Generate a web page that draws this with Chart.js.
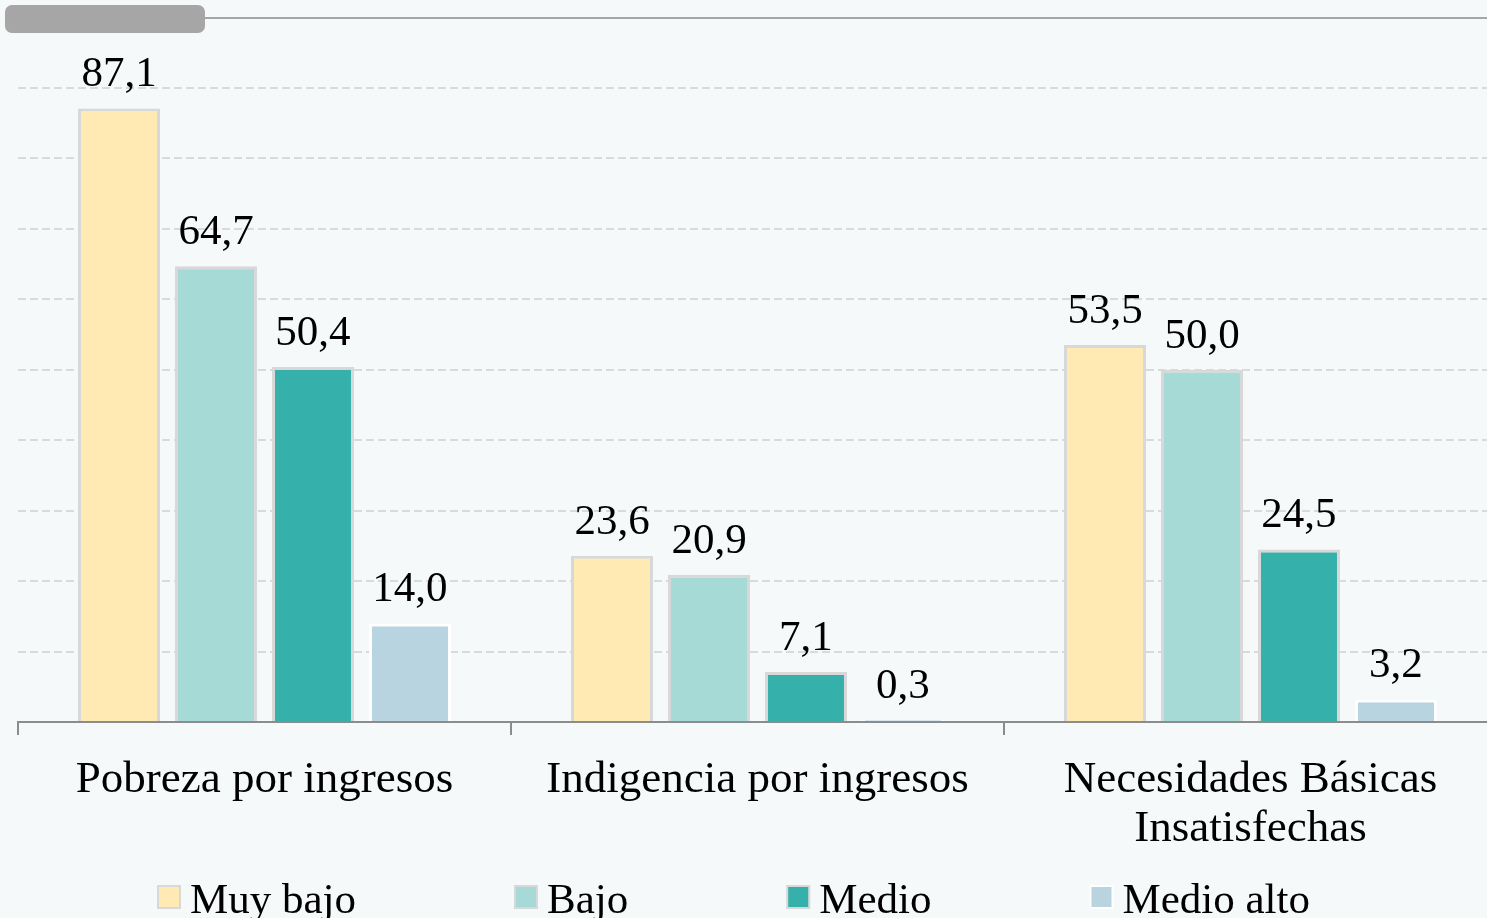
<!DOCTYPE html>
<html><head><meta charset="utf-8">
<script src="https://cdn.jsdelivr.net/npm/chart.js@4.4.1/dist/chart.umd.min.js"></script>
<style>
html,body{margin:0;padding:0;background:#f5f9fa;overflow:hidden;width:1487px;height:918px}
#wrap{position:relative;width:1487px;height:918px;overflow:hidden}
canvas{position:absolute;left:0;top:0}
.tab{position:absolute;left:5px;top:5px;width:200px;height:28px;background:#a6a6a6;border-radius:7px}
.rule{position:absolute;left:205px;top:17px;right:0;height:2px;background:#a6a6a6}
</style></head>
<body><div id="wrap"><canvas id="c" width="1500" height="918"></canvas><div class="tab"></div><div class="rule"></div></div>
<script>
// categories and series
const categories = ["Pobreza por ingresos", "Indigencia por ingresos", ["Necesidades Básicas", "Insatisfechas"]];
const series = ["Muy bajo", "Bajo", "Medio", "Medio alto"];
const muyBajo = [87.1, 23.6, 53.5];
const bajo = [64.7, 20.9, 50.0];
const medio = [50.4, 7.1, 24.5];
const medioAlto = [14.0, 0.3, 3.2];
const yMin = 0, yMax = 90, yStep = 10;

const colors = ["#ffeab3", "#a6dad7", "#35b0aa", "#b7d4e0"];
const edges = ["#d8d8d8", "#d8d8d8", "#d8d8d8", "#ffffff"];
const FONT = '"Liberation Serif", "DejaVu Serif", serif';

const fmt = v => v.toFixed(1).replace(".", ",");

const valueLabels = {
  id: "valueLabels",
  afterDatasetsDraw(chart) {
    const { ctx } = chart;
    ctx.save();
    ctx.font = `43px ${FONT}`;
    ctx.fillStyle = "#000";
    ctx.textAlign = "center";
    ctx.textBaseline = "alphabetic";
    chart.data.datasets.forEach((ds, i) => {
      chart.getDatasetMeta(i).data.forEach((bar, j) => {
        ctx.fillText(fmt(ds.data[j]), bar.x, bar.y - 22);
      });
    });
    ctx.restore();
  }
};

const bottomLegend = {
  id: "bottomLegend",
  afterDraw(chart) {
    const { ctx } = chart;
    ctx.save();
    ctx.font = `43px ${FONT}`;
    ctx.textBaseline = "alphabetic";
    let x = 158;
    chart.data.datasets.forEach((ds, i) => {
      ctx.fillStyle = ds.backgroundColor;
      ctx.fillRect(x, 886, 22, 22);
      ctx.strokeStyle = ds.borderColor;
      ctx.lineWidth = 2;
      ctx.strokeRect(x, 886, 22, 22);
      ctx.fillStyle = "#000";
      ctx.fillText(ds.label, x + 32, 913);
      x += 32 + ctx.measureText(ds.label).width + 159;
    });
    ctx.restore();
  }
};

const data = [muyBajo, bajo, medio, medioAlto];

new Chart(document.getElementById("c"), {
  type: "bar",
  data: {
    labels: categories,
    datasets: series.map((s, i) => ({
      label: s,
      data: data[i],
      backgroundColor: colors[i],
      borderColor: edges[i],
      borderWidth: 3,
      categoryPercentage: 0.787,
      barPercentage: 0.845
    }))
  },
  options: {
    responsive: false,
    animation: false,
    layout: { padding: { left: 18, right: 3, top: 88, bottom: 0 } },
    plugins: { legend: { display: false }, tooltip: { enabled: false } },
    scales: {
      x: {
        grid: { display: true, drawOnChartArea: false, drawTicks: true, tickLength: 13, color: "#8c8c8c", lineWidth: 2, offset: true },
        border: { display: true, color: "#8c8c8c", width: 2 },
        ticks: { font: { family: FONT, size: 45, lineHeight: 1.1 }, color: "#000", padding: 20, maxRotation: 0, autoSkip: false },
        afterFit(s) { s.height = 196; }
      },
      y: {
        min: yMin, max: yMax,
        ticks: { display: false, stepSize: yStep },
        grid: { color: "#dadada", lineWidth: 2, drawTicks: false },
        border: { display: false, dash: [8, 4] },
        afterFit(s) { s.width = 0; }
      }
    }
  },
  plugins: [valueLabels, bottomLegend]
});
</script>
</body></html>
